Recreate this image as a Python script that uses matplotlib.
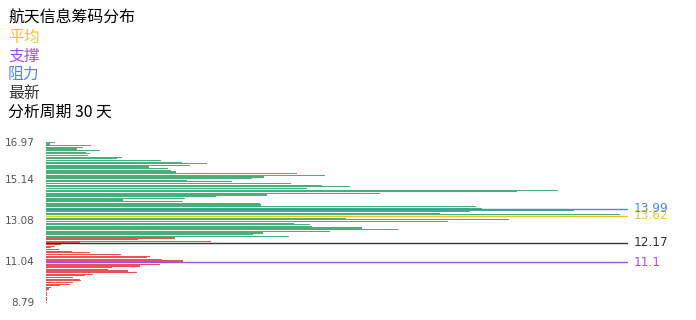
import numpy as np
import matplotlib
matplotlib.use('Agg')
import matplotlib.pyplot as plt

plt.rcParams['font.family'] = ['Noto Sans CJK SC', 'DejaVu Sans']

title = '航天信息筹码分布'
period_days = 30

# 筹码量, 从上往下读: 绿色在最新价上方, 红色在下方
green_vol = [9, 4, 45, 37, 31, 54, 40, 44, 42, 76,
             71, 115, 136, 161, 144, 103, 122, 125, 130, 251,
             279, 218, 206, 141, 186, 245, 276, 304, 261, 512,
             471, 334, 221, 170, 139, 77, 137, 214, 215, 430,
             436, 528, 424, 394, 574, 468, 300, 463, 402, 248,
             264, 266, 316, 352, 284, 217, 207, 243]
red_vol = [129, 92, 165, 34, 15, 9, 5, 13, 26, 44,
           75, 104, 101, 116, 137, 137, 114, 94, 66, 62,
           82, 91, 47, 39, 27, 34, 35, 27, 24, 14,
           5, 3, 1, 1, 1, 0.5, 1, 0.5, 0.5, 0.5]

# y轴刻度 (行号从下往上)
tick_rows = [0, 25, 50, 75, 97]
tick_labels = ['8.79', '11.04', '13.08', '15.14', '16.97']

# 标记线
line_names = ['平均', '支撑', '阻力', '最新']
line_prices = [13.62, 11.1, 13.99, 12.17]
line_colors = ['#f7c31a', '#a04cf0', '#4a86f7', '#333333']

# 标记线所用的价格刻度
price_bottom = 8.944
price_step = 0.089

fig = plt.figure(figsize=(6.96, 3.2), dpi=100)
ax = fig.add_axes([46 / 696, 1 - 303.1 / 320, 582 / 696, (303.1 - 141.5) / 320])

vols = np.array(green_vol + red_vol, dtype=float)[::-1]
colors = ['#ea5252'] * len(red_vol) + ['#45b077'] * len(green_vol)
rows = np.arange(len(vols))
ax.barh(rows, vols, height=0.72, color=colors, linewidth=0)
ax.set_ylim(-0.5, len(vols) - 0.5)
ax.set_xlim(0, vols.max() * 582 / 574)
ax.set_yticks(tick_rows, tick_labels, family='DejaVu Sans')
ax.tick_params(axis='y', length=0, pad=8, labelsize=7.5, labelcolor='#555555')
ax.set_xticks([])
for s in ax.spines.values():
    s.set_visible(False)

ax2 = ax.twinx()
lo, hi = ax.get_ylim()
ax2.set_ylim(price_bottom + price_step * lo, price_bottom + price_step * hi)
ax2.axis('off')
for p, c in zip(line_prices, line_colors):
    ax2.axhline(p, color=c, lw=1)
    ax2.annotate(str(p), xy=(1, p), xycoords=ax2.get_yaxis_transform(),
                 xytext=(4, 0), textcoords='offset points', va='center', ha='left',
                 color=c, fontsize=8.7, family='DejaVu Sans', annotation_clip=False)

# 左上角标题和图例文字
fig.text(8 / 696, 1 - 18 / 320, title, fontsize=11.4, va='center', color='black')
for k, (name, c) in enumerate(zip(line_names, line_colors)):
    fig.text(8 / 696, 1 - (37 + 18.8 * k) / 320, name, fontsize=11.4, va='center', color=c)
fig.text(8 / 696, 1 - 112 / 320, f'分析周期 {period_days} 天', fontsize=11.4, va='center', color='black')

fig.savefig('out.png', dpi=100)
